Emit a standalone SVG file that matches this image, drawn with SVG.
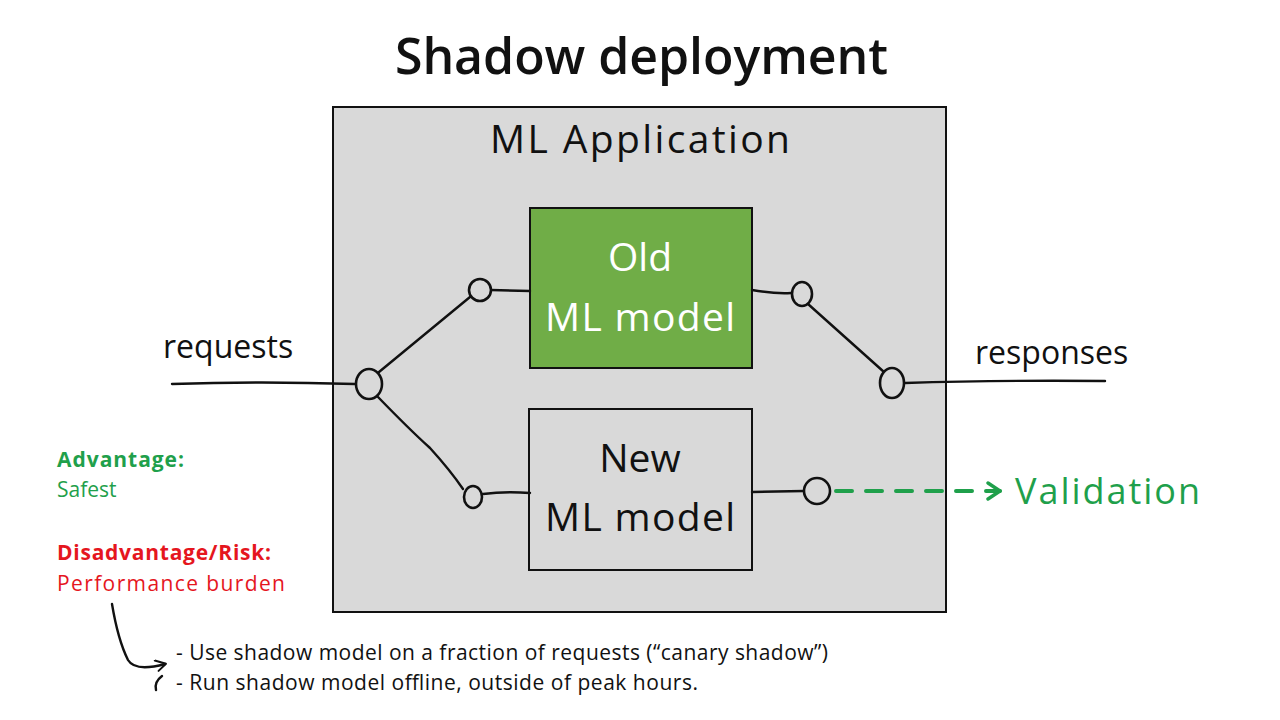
<svg xmlns="http://www.w3.org/2000/svg" width="1280" height="720" viewBox="0 0 1280 720">
  <defs>
    <marker id="chevGreen" viewBox="0 0 20 20" refX="16" refY="10" markerWidth="20" markerHeight="20" markerUnits="userSpaceOnUse" orient="auto">
      <path d="M4,2 L16,10 L4,18" fill="none" stroke="#1fa04b" stroke-width="3.4" stroke-linecap="round" stroke-linejoin="round"/>
    </marker>
    <marker id="chevBlack" viewBox="0 0 14 14" refX="11" refY="7" markerWidth="14" markerHeight="14" markerUnits="userSpaceOnUse" orient="auto">
      <path d="M2,1 L12,7 L3,12" fill="none" stroke="#111" stroke-width="2" stroke-linecap="round" stroke-linejoin="round"/>
    </marker>
  </defs>
  <style>
    text { font-family: "Open Sans", "Liberation Sans", sans-serif; }
    .title { font-size: 50px; font-weight: 600; fill: #111; }
    .lbl { font-size: 39px; fill: #111; }
    .lblw { font-size: 39px; fill: #fff; }
    .hand { font-size: 32px; fill: #111; font-family: "Liberation Sans Narrow", "Open Sans", sans-serif; }
    .box { stroke: #111; stroke-width: 2; }
    .wire { fill: none; stroke: #111; stroke-width: 2.4; stroke-linecap: round; }
    .port { fill: #d9d9d9; stroke: #111; stroke-width: 2.6; }
    .green { fill: #1fa04b; }
    .red { fill: #e5161e; }
    .note { font-size: 21px; }
  </style>
  <rect width="1280" height="720" fill="#ffffff"/>

  <text class="title" x="395" y="74" textLength="493" lengthAdjust="spacing">Shadow deployment</text>

  <g id="ml-application">
    <rect class="box" x="333" y="107" width="613" height="505" fill="#d9d9d9"/>
    <text class="lbl" x="490" y="153" textLength="300" lengthAdjust="spacing">ML Application</text>
  </g>

  <g id="old-model">
    <rect class="box" x="530" y="208" width="222" height="160" fill="#70ad47"/>
    <text class="lblw" x="640" y="271" text-anchor="middle">Old</text>
    <text class="lblw" x="545" y="331" textLength="190" lengthAdjust="spacing">ML model</text>
  </g>

  <g id="new-model">
    <rect class="box" x="529" y="409" width="223" height="161" fill="#d9d9d9"/>
    <text class="lbl" x="640" y="472" text-anchor="middle">New</text>
    <text class="lbl" x="545" y="531" textLength="190" lengthAdjust="spacing">ML model</text>
  </g>

  <g id="connectors">
    <path class="wire" d="M172,384 Q260,381 355,384"/>
    <path class="wire" d="M379,372 L470,297"/>
    <path class="wire" d="M491,290 L530,291"/>
    <path class="wire" d="M378,397 Q410,430 430,448 Q450,470 463,489"/>
    <path class="wire" d="M483,494 Q505,491 530,493"/>
    <path class="wire" d="M752,290 Q775,294 791,293"/>
    <path class="wire" d="M808,304 L884,372"/>
    <path class="wire" d="M905,383 Q1000,380 1105,381"/>
    <path class="wire" d="M752,492 L804,491"/>
    <path d="M836,491 L1000,491" fill="none" stroke="#1fa04b" stroke-width="4" stroke-dasharray="16,14" stroke-linecap="round" marker-end="url(#chevGreen)"/>
    <path class="wire" d="M112,604 Q118,640 128,660 Q135,672 165,664" marker-end="url(#chevBlack)"/>
    <path class="wire" d="M162,676 Q154,682 156,690"/>
  </g>

  <g id="ports">
    <ellipse class="port" cx="369" cy="384" rx="13" ry="15"/>
    <ellipse class="port" cx="480" cy="290" rx="11" ry="11"/>
    <ellipse class="port" cx="473" cy="497" rx="9" ry="11"/>
    <ellipse class="port" cx="802" cy="294" rx="10" ry="12"/>
    <ellipse class="port" cx="892" cy="383" rx="12" ry="15"/>
    <ellipse class="port" cx="817" cy="491" rx="13" ry="13"/>
  </g>

  <g id="requests">
    <text class="hand" x="163" y="358">requests</text>
  </g>
  <g id="responses">
    <text class="hand" x="975" y="364">responses</text>
  </g>
  <g id="validation">
    <text class="green" x="1015" y="504" style="font-size:36px" textLength="185" lengthAdjust="spacing">Validation</text>
  </g>

  <g id="notes">
    <text class="note green" x="57" y="467" font-weight="700" textLength="127" lengthAdjust="spacing">Advantage:</text>
    <text class="note green" x="57" y="497">Safest</text>
    <text class="note red" x="57" y="560" font-weight="700" textLength="214" lengthAdjust="spacing">Disadvantage/Risk:</text>
    <text class="note red" x="57" y="591" textLength="228" lengthAdjust="spacing">Performance burden</text>
    <text class="note" x="176" y="660" fill="#111" textLength="652" lengthAdjust="spacing">- Use shadow model on a fraction of requests (“canary shadow”)</text>
    <text class="note" x="176" y="690" fill="#111" textLength="522" lengthAdjust="spacing">- Run shadow model offline, outside of peak hours.</text>
  </g>
</svg>
